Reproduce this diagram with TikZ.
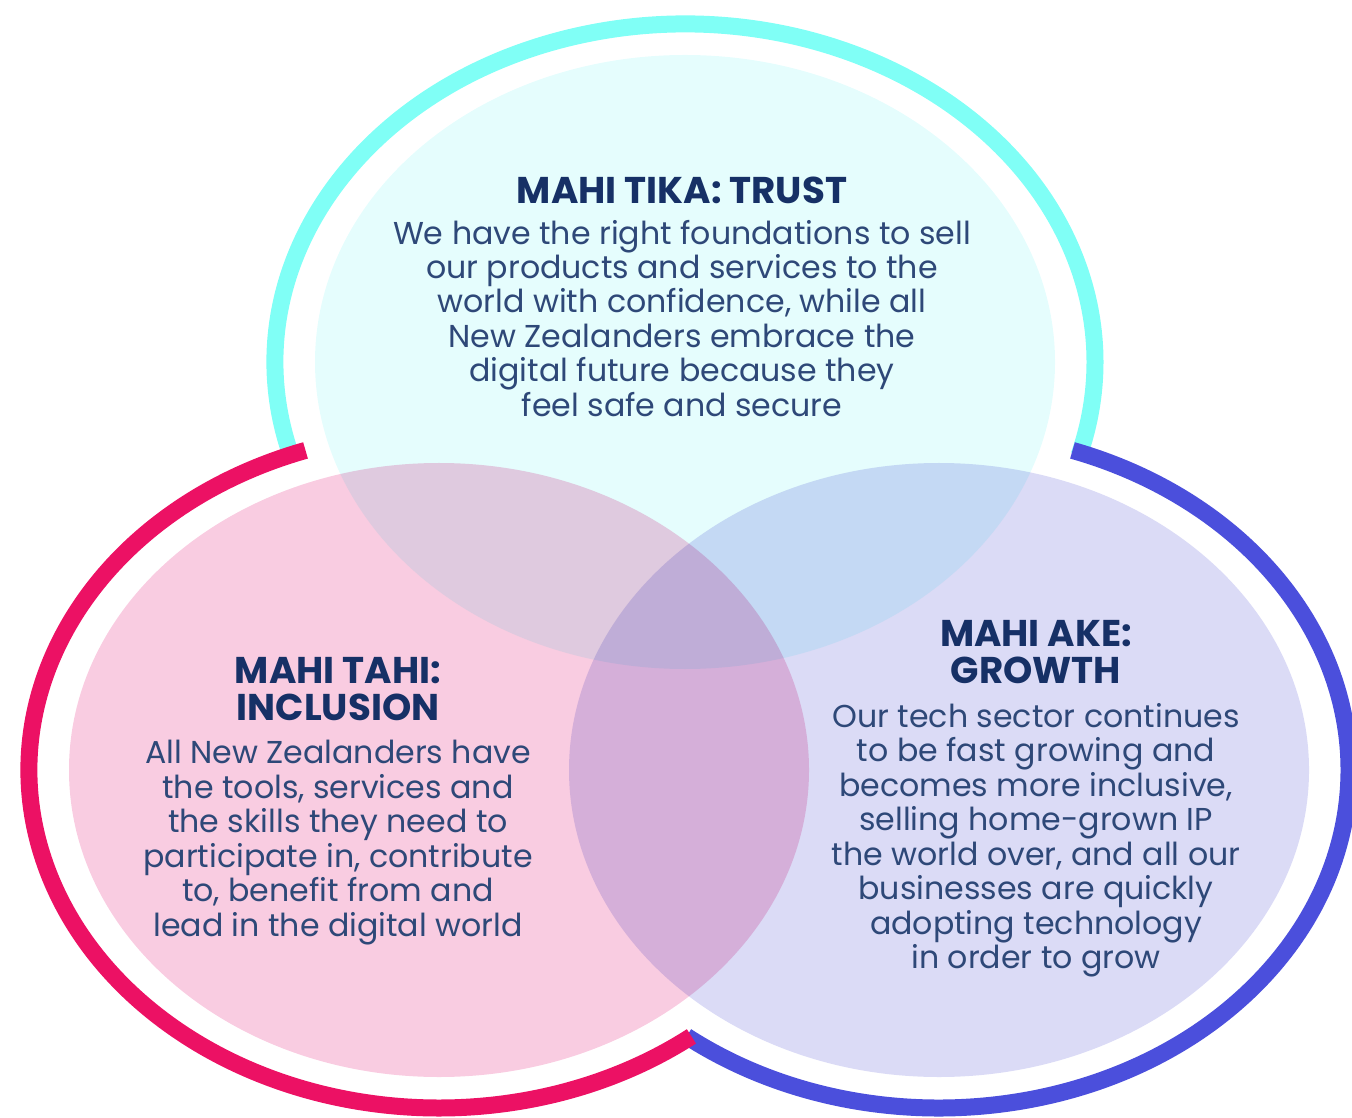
\documentclass[tikz,border=0pt]{standalone}
\usepackage{fontspec}
\setmainfont{Poppins}
\usetikzlibrary{positioning}

\definecolor{trustring}{HTML}{80FFF6}
\definecolor{inclring}{HTML}{EC1164}
\definecolor{growring}{HTML}{4B4FDC}
\definecolor{trustfill}{HTML}{E5FDFD}
\definecolor{inclfill}{HTML}{F9CCE1}
\definecolor{growfill}{HTML}{DBDBF6}
\definecolor{headblue}{HTML}{163066}
\definecolor{textblue}{HTML}{2E4878}

\tikzset{
  ring/.style={line width=0.17cm},
  heading/.style={align=center, inner sep=0pt, text=headblue,
    font=\fontsize{10.6}{10.5}\selectfont\bfseries},
  blurb/.style={align=center, inner sep=0pt, text=textblue,
    font=\fontsize{9}{9.8}\selectfont},
}

\begin{document}
\begin{tikzpicture}
    \useasboundingbox (0,0) rectangle (13.52,11.17);
    \coordinate (trust) at (6.85,7.55);
    \coordinate (incl) at (4.39,3.47);
    \coordinate (grow) at (9.39,3.47);
    % the three petals, overlaps come from multiply
    \begin{scope}[blend mode=multiply]
      \fill[trustfill] (trust) ellipse [x radius=3.70, y radius=3.07];
      \fill[inclfill] (incl) ellipse [x radius=3.70, y radius=3.07];
      \fill[growfill] (grow) ellipse [x radius=3.70, y radius=3.07];
    \end{scope}
    % outer rings
    \draw[ring,trustring] (trust) ++(196:4.10 and 3.38)
      arc [start angle=196, end angle=-16, x radius=4.10, y radius=3.38];
    \draw[ring,growring] (grow) ++(232:4.10 and 3.38)
      arc [start angle=232, end angle=431, x radius=4.10, y radius=3.38];
    \draw[ring,inclring] (incl) ++(109:4.10 and 3.38)
      arc [start angle=109, end angle=308, x radius=4.10, y radius=3.38];
    % texts
    \node[heading,anchor=north] (trusthead) at (6.82,9.41) {MAHI TIKA: TRUST};
    \node[blurb,below=0.15cm of trusthead] (trusttext) {We have the right foundations to sell\\
      our products and services to the\\ world with confidence, while all\\
      New Zealanders embrace the\\ digital future because they\\ feel safe and secure};
    \node[heading,anchor=north] (inclhead) at (3.38,4.60) {MAHI TAHI:\\ INCLUSION};
    \node[blurb,below=0.18cm of inclhead] (incltext) {All New Zealanders have\\
      the tools, services and\\ the skills they need to\\ participate in, contribute\\
      to, benefit from and\\ lead in the digital world};
    \node[heading,anchor=north] (growhead) at (10.36,4.97) {MAHI AKE:\\ GROWTH};
    \node[blurb,below=0.18cm of growhead] (growtext) {Our tech sector continues\\
      to be fast growing and\\ becomes more inclusive,\\ selling home-grown IP\\
      the world over, and all our\\ businesses are quickly\\ adopting technology\\ in order to grow};
\end{tikzpicture}
\end{document}
